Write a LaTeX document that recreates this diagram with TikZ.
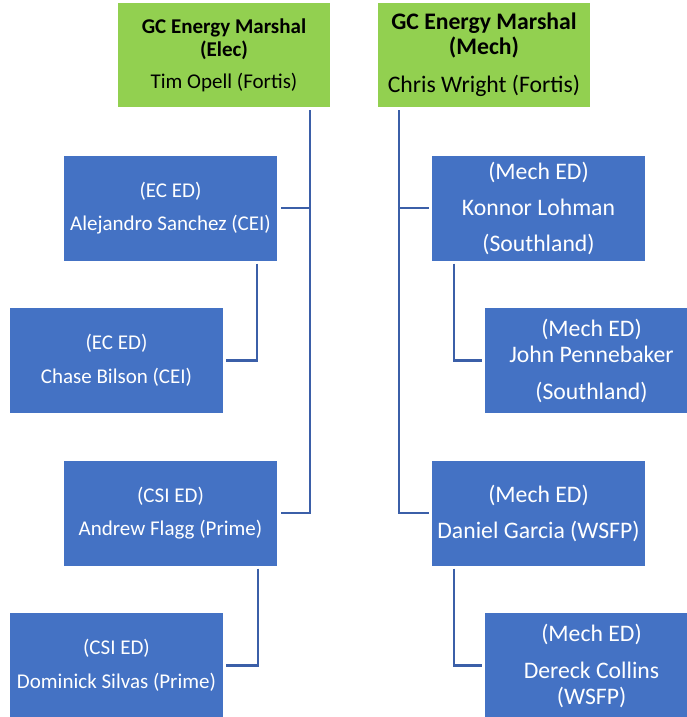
\documentclass[tikz,border=0pt]{standalone}
\usepackage{fontspec}
\setmainfont{Carlito}
\usepackage{tikz}
\usetikzlibrary{calc}
\definecolor{gcgreen}{HTML}{92D050}
\definecolor{edblue}{HTML}{4472C4}
\definecolor{linkblue}{HTML}{3B5FA8}

\begin{document}
\begin{tikzpicture}[x=1pt,y=-1pt,
  gcbox/.style={fill=gcgreen,text=black,minimum width=212pt,minimum height=104pt,inner sep=0pt,align=center},
  edbox/.style={fill=edblue,text=white,minimum width=213pt,minimum height=105pt,inner sep=0pt,align=center},
  elec/.style={font=\fontsize{21}{#1}\selectfont},
  mech/.style={font=\fontsize{23.7}{#1}\selectfont},
  link/.style={draw=linkblue,line width=2.4pt}]
\useasboundingbox (0,0) rectangle (687,717);
\clip (0,0) rectangle (687,717);

\node[gcbox,elec=23] (GC-elec) at (224,55) {\textbf{GC Energy Marshal}\\\textbf{(Elec)}\\[9pt]Tim Opell (Fortis)};
\node[gcbox,mech=25] (GC-mech) at (484,55) {\textbf{GC Energy Marshal}\\\textbf{(Mech)}\\[13pt]Chris Wright (Fortis)};

\node[edbox,elec=33] (EC-1) at (170.5,208) {(EC ED)\\Alejandro Sanchez (CEI)};
\node[edbox,elec=34] (EC-2) at (116.5,360.5) {(EC ED)\\Chase Bilson (CEI)};
\node[edbox,elec=33] (CSI-1) at (170.5,513) {(CSI ED)\\Andrew Flagg (Prime)};
\node[edbox,elec=34] (CSI-2) at (116.5,665.5) {(CSI ED)\\Dominick Silvas (Prime)};

\node[edbox,mech=36] (Mech-1) at (538.5,208) {(Mech ED)\\Konnor Lohman\\(Southland)};
\node[edbox,mech=37] (Mech-2) at (591.5,360.5) {(Mech ED)\\[-11pt]John Pennebaker\\(Southland)};
\node[edbox,mech=36] (Mech-3) at (538.5,513) {(Mech ED)\\Daniel Garcia (WSFP)};
\node[edbox,mech=37] (Mech-4) at (591.5,665.5) {(Mech ED)\\Dereck Collins\\[-11pt](WSFP)};

\coordinate (elec-trunk) at ($(GC-elec.south east)+(-20,3)$);
\coordinate (mech-trunk) at ($(GC-mech.south west)+(21,3)$);

\draw[link] (elec-trunk) |- ([xshift=4pt]CSI-1.east);
\draw[link] ([xshift=4pt]EC-1.east) -- (EC-1.east -| elec-trunk);
\draw[link] ([xshift=-20pt,yshift=-3pt]EC-1.south east) |- ([xshift=3pt]EC-2.east);
\draw[link] ([xshift=-19pt,yshift=-3pt]CSI-1.south east) |- ([xshift=3pt]CSI-2.east);

\draw[link] (mech-trunk) |- ([xshift=-3pt]Mech-3.west);
\draw[link] ([xshift=-3pt]Mech-1.west) -- (Mech-1.west -| mech-trunk);
\draw[link] ([xshift=22pt,yshift=-3pt]Mech-1.south west) |- ([xshift=-3pt]Mech-2.west);
\draw[link] ([xshift=22pt,yshift=-3pt]Mech-3.south west) |- ([xshift=-3pt]Mech-4.west);
\end{tikzpicture}
\end{document}
